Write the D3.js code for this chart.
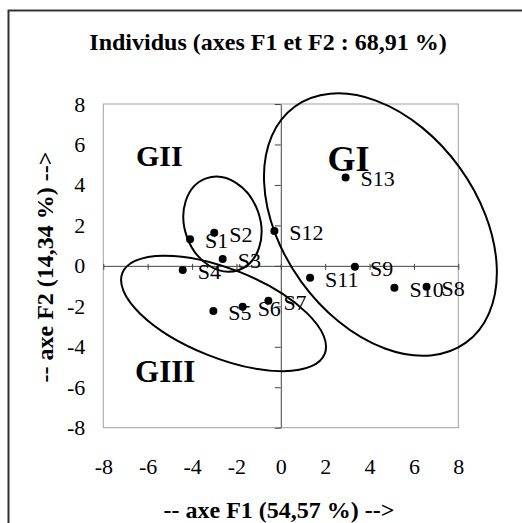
<!DOCTYPE html>
<meta charset="utf-8">
<html>
<head>
<script src="https://d3js.org/d3.v7.min.js"></script>
<style>
body { margin: 0; background: #fff; }
svg text { font-family: "Times New Roman", "Liberation Serif", "DejaVu Serif", serif; fill: #000; }
</style>
</head>
<body>
<div id="my_dataviz"></div>
<script>

// individuals (F1, F2 scores)
var names = ["S1","S2","S3","S4","S5","S6","S7","S8","S9","S10","S11","S12","S13"];
var f1 = [-4.09, -3.0, -2.62, -4.42, -3.04, -1.72, -0.56, 6.57, 3.34, 5.12, 1.32, -0.29, 2.92];
var f2 = [1.32, 1.64, 0.34, -0.21, -2.23, -2.02, -1.72, -1.03, -0.04, -1.08, -0.59, 1.72, 4.37];

// group ellipses: centre (F1,F2), semi axes in F1 units, rotation in degrees
var groupNames = ["GI", "GII", "GIII"];
var groupCx = [4.49, -2.63, -2.58];
var groupCy = [2.04, 2.06, -2.35];
var groupRa = [6.57, 2.19, 4.91];
var groupRb = [4.40, 1.70, 2.00];
var groupAngle = [54.1, 70.4, 21.8];
// group label anchors (F1,F2) and size
var labelX = [2.10, -6.53, -6.57];
var labelY = [4.70, 4.93, -5.73];
var labelSize = [36, 30, 31];

var ticks = [-8, -6, -4, -2, 0, 2, 4, 6, 8];

var serif = '"Times New Roman", "Liberation Serif", "DejaVu Serif", serif';

var W = 522, H = 523;
var svg = d3.select("#my_dataviz")
  .append("svg")
    .attr("width", W)
    .attr("height", H);

// outer chart frame (runs off the picture right and bottom)
svg.append("rect")
  .attr("x", 8.5).attr("y", 10.5)
  .attr("width", 800).attr("height", 800)
  .attr("fill", "none")
  .attr("stroke", "#333")
  .attr("stroke-width", 2);

var x = d3.scaleLinear().domain([-8, 8]).range([103.3, 458.3]);
var y = d3.scaleLinear().domain([-8, 8]).range([427.7, 104]);

// plot area border
svg.append("rect")
  .attr("x", x(-8)).attr("y", y(8))
  .attr("width", x(8) - x(-8)).attr("height", y(-8) - y(8))
  .attr("fill", "none")
  .attr("stroke", "#a0a0a0")
  .attr("stroke-width", 1);

// axes through origin
var xAxis = svg.append("g")
  .attr("transform", "translate(0," + y(0) + ")")
  .call(d3.axisBottom(x).tickValues(ticks).tickSize(5).tickSizeOuter(0).tickFormat(""));
xAxis.select(".domain").attr("stroke", "#444");
xAxis.selectAll(".tick line").attr("stroke", "#444").attr("y1", -2).attr("y2", 4);

var yAxis = svg.append("g")
  .attr("transform", "translate(" + x(0) + ",0)")
  .call(d3.axisLeft(y).tickValues(ticks).tickSize(6).tickSizeOuter(0).tickFormat(""));
yAxis.select(".domain").attr("stroke", "#444");
yAxis.selectAll(".tick line").attr("stroke", "#444");

// tick labels outside the plot area (plain hyphen for minus)
var fmt = function(d) { return String(d); };
var xLab = svg.append("g")
  .attr("transform", "translate(0," + y(-8) + ")")
  .call(d3.axisBottom(x).tickValues(ticks).tickSize(0).tickPadding(31).tickFormat(fmt));
xLab.select(".domain").remove();
xLab.attr("font-family", null).attr("font-size", null);
xLab.selectAll("text").style("font-size", "22px").style("font-family", serif);

var yLab = svg.append("g")
  .attr("transform", "translate(" + x(-8) + ",0)")
  .call(d3.axisLeft(y).tickValues(ticks).tickSize(0).tickPadding(18).tickFormat(fmt));
yLab.select(".domain").remove();
yLab.attr("font-family", null).attr("font-size", null);
yLab.selectAll("text").style("font-size", "22px").style("font-family", serif);

// title
svg.append("text")
  .attr("x", 268).attr("y", 50)
  .attr("text-anchor", "middle")
  .style("font-family", serif)
  .style("font-size", "24px").style("font-weight", "bold")
  .text("Individus (axes F1 et F2 : 68,91 %)");

// axis titles
svg.append("text")
  .attr("x", 279).attr("y", 518)
  .attr("text-anchor", "middle")
  .style("font-family", serif)
  .style("font-size", "24px").style("font-weight", "bold")
  .text("-- axe F1 (54,57 %) -->");

svg.append("text")
  .attr("transform", "translate(53,267) rotate(-90)")
  .attr("text-anchor", "middle")
  .style("font-family", serif)
  .style("font-size", "24px").style("font-weight", "bold")
  .text("-- axe F2 (14,34 %) -->");

// ellipses around groups
var kx = x(1) - x(0);
svg.selectAll(".grp")
  .data(groupNames)
  .enter()
  .append("ellipse")
    .attr("class", "grp")
    .attr("transform", function(d, i) { return "translate(" + x(groupCx[i]) + "," + y(groupCy[i]) + ") rotate(" + groupAngle[i] + ")"; })
    .attr("rx", function(d, i) { return groupRa[i] * kx; })
    .attr("ry", function(d, i) { return groupRb[i] * kx; })
    .attr("fill", "none")
    .attr("stroke", "#000")
    .attr("stroke-width", 2);

// group labels
svg.selectAll(".glab")
  .data(groupNames)
  .enter()
  .append("text")
    .attr("class", "glab")
    .attr("x", function(d, i) { return x(labelX[i]); })
    .attr("y", function(d, i) { return y(labelY[i]); })
    .style("font-family", serif)
    .style("font-size", function(d, i) { return labelSize[i] + "px"; })
    .style("font-weight", "bold")
    .text(function(d) { return d; });

// points
svg.selectAll(".dot")
  .data(names)
  .enter()
  .append("circle")
    .attr("class", "dot")
    .attr("cx", function(d, i) { return x(f1[i]); })
    .attr("cy", function(d, i) { return y(f2[i]); })
    .attr("r", 4)
    .style("fill", "#000");

svg.selectAll(".plab")
  .data(names)
  .enter()
  .append("text")
    .attr("class", "plab")
    .attr("x", function(d, i) { return x(f1[i]); })
    .attr("y", function(d, i) { return y(f2[i]); })
    .attr("dx", 15).attr("dy", 9)
    .style("font-family", serif)
    .style("font-size", "22px")
    .text(function(d) { return d; });

</script>
</body>
</html>
